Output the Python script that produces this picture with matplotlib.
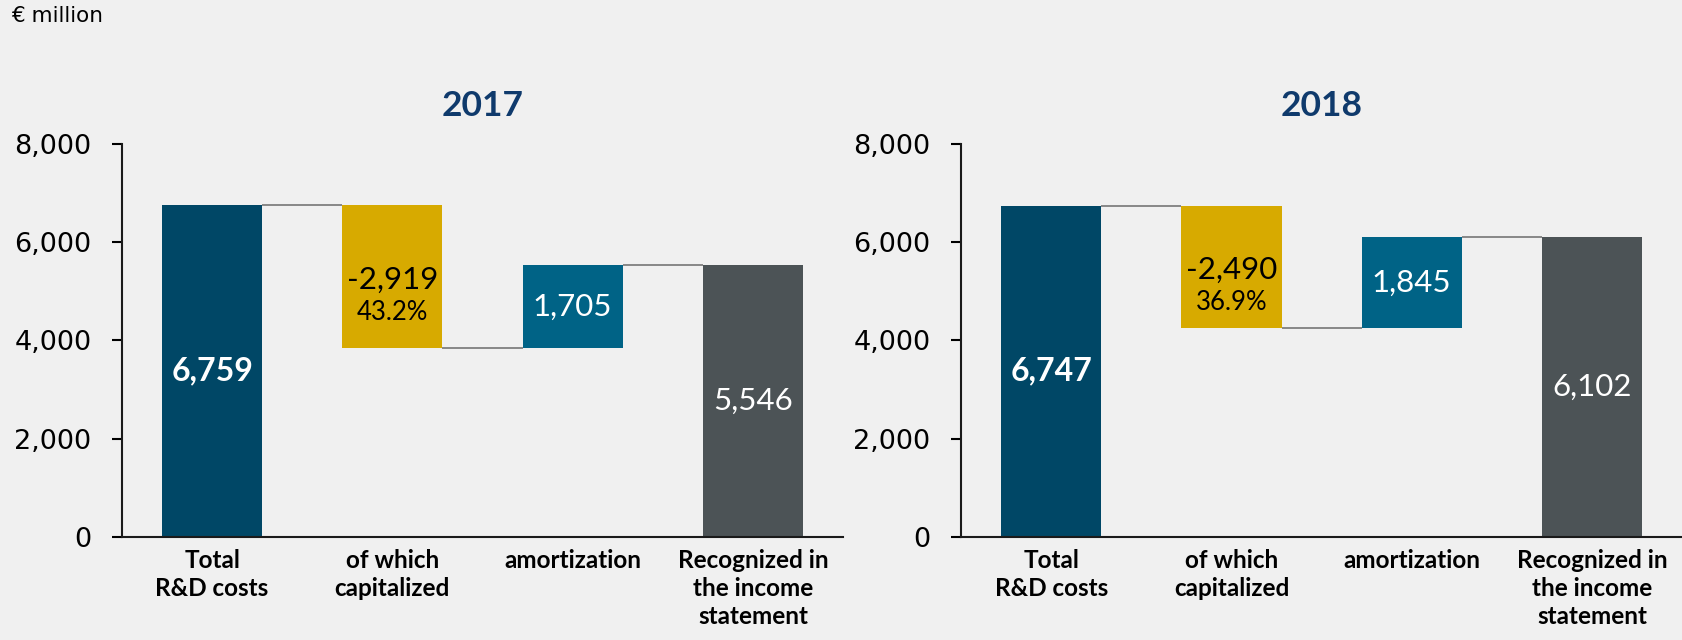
import matplotlib.pyplot as plt
from matplotlib.ticker import FuncFormatter

# R&D costs bridge, € million
years = ["2017", "2018"]
categories = ["Total\nR&D costs", "of which\ncapitalized", "amortization",
              "Recognized in\nthe income\nstatement"]
total = [6759, 6747]
capitalized = [-2919, -2490]
cap_share = [43.2, 36.9]
amortization = [1705, 1845]
recognized = [5546, 6102]

bg = "#f0f0f0"
c_total = "#004766"
c_cap = "#d7aa00"
c_amort = "#006386"
c_recog = "#4c5356"
c_title = "#0f3a6c"
c_link = "#808080"
label_font = "Lato"

fig = plt.figure(figsize=(16.82, 6.4), dpi=100, facecolor=bg)
axes = [fig.add_axes([0.0725, 0.161, 0.4287, 0.614]),
        fig.add_axes([0.5714, 0.161, 0.4287, 0.614])]

fig.text(0.0065, 0.975, "€ million", fontsize=15.5, va="center", ha="left",
         family="DejaVu Sans")

width = 0.555
x = range(len(categories))

for i, ax in enumerate(axes):
    ax.set_facecolor(bg)
    start = total[i]
    low = total[i] + capitalized[i]
    mid = low + amortization[i]

    bottoms = [0, low, low, 0]
    heights = [start, -capitalized[i], amortization[i], recognized[i]]
    colors = [c_total, c_cap, c_amort, c_recog]
    ax.bar(x, heights, bottom=bottoms, width=width, color=colors, zorder=2)

    # connectors between consecutive bars
    h = width / 2
    for x0, level in [(0, start), (1, low), (2, mid)]:
        ax.plot([x0 + h, x0 + 1 - h], [level, level], color=c_link,
                lw=1.3, zorder=1, solid_capstyle="butt")

    # value labels
    ax.text(0, start / 2, f"{start:,}", ha="center", va="center", color="white",
            fontsize=23, fontweight="bold", family=label_font)
    cap_mid = (start + low) / 2
    ax.annotate(f"{capitalized[i]:,}", (1, cap_mid), xytext=(0, -2),
                textcoords="offset points", ha="center", va="center",
                color="black", fontsize=22.5, family=label_font)
    ax.annotate(f"{cap_share[i]:.1f}%", (1, cap_mid), xytext=(0, -26),
                textcoords="offset points", ha="center", va="center",
                color="black", fontsize=18.5, family=label_font)
    ax.text(2, (low + mid) / 2, f"{amortization[i]:,}", ha="center",
            va="center", color="white", fontsize=22.5, family=label_font)
    ax.text(3, recognized[i] / 2, f"{recognized[i]:,}", ha="center",
            va="center", color="white", fontsize=22.5, family=label_font)

    ax.set_xlim(-0.5, 3.5)
    ax.set_ylim(0, 8000)
    ax.set_yticks(range(0, 8001, 2000))
    ax.yaxis.set_major_formatter(FuncFormatter(lambda v, p: f"{v:,.0f}"))
    ax.set_xticks(list(x))
    ax.set_xticklabels(categories, fontsize=17.5, fontweight="bold",
                       family=label_font, linespacing=1.26)
    ax.tick_params(axis="x", length=0, pad=9)
    ax.tick_params(axis="y", length=7, width=1.5, pad=15, labelsize=19.5,
                   direction="out")
    for lab in ax.get_yticklabels():
        lab.set_family("DejaVu Sans")

    for s in ["top", "right"]:
        ax.spines[s].set_visible(False)
    for s in ["left", "bottom"]:
        ax.spines[s].set_linewidth(1.5)
        ax.spines[s].set_color("#1a1a1a")

    ax.set_title(years[i], fontsize=25.5, fontweight="bold", color=c_title,
                 family=label_font, pad=20)

fig.savefig("out.png", dpi=100, facecolor=bg)
